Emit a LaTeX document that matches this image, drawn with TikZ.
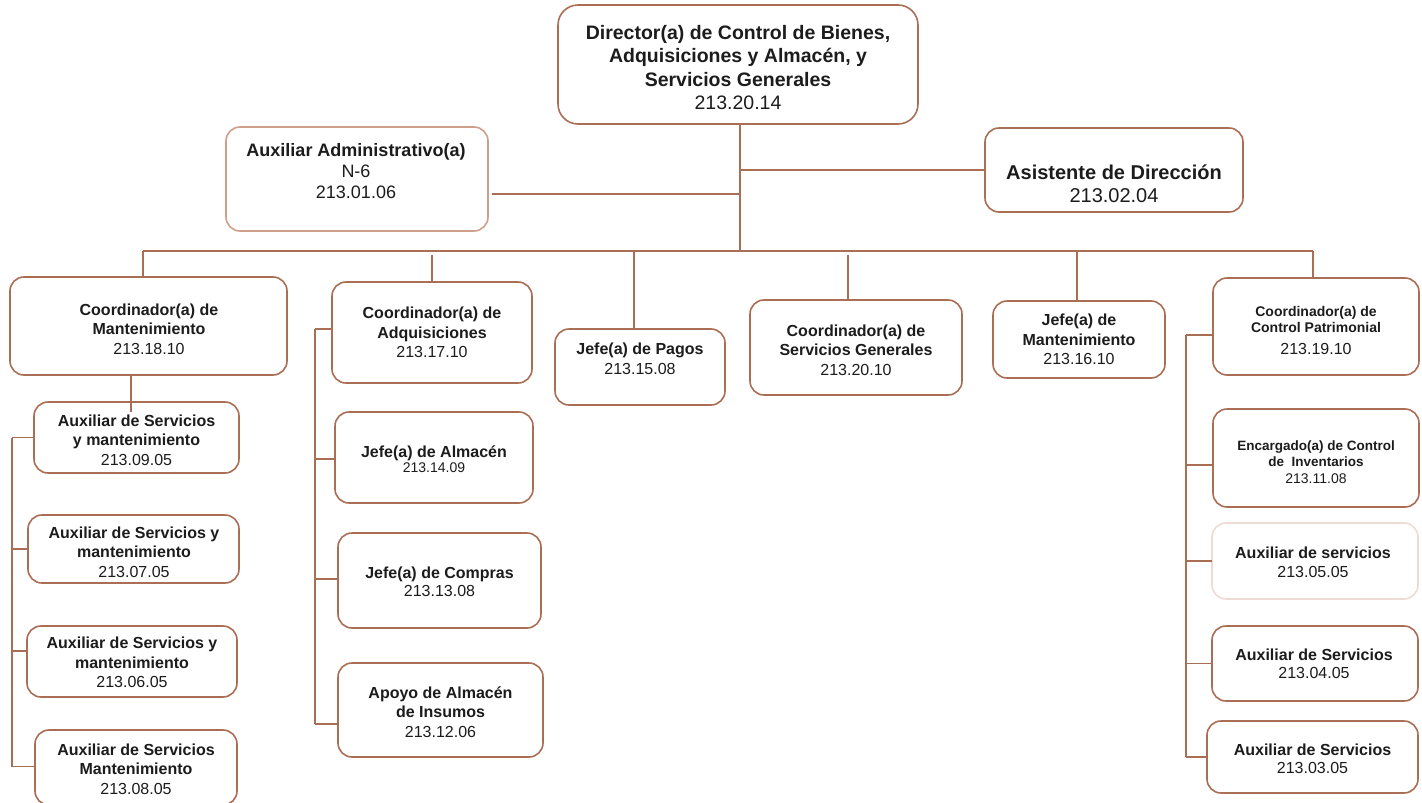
\documentclass[tikz,border=0pt]{standalone}
\usepackage{fontspec}
\setmainfont{Liberation Sans}
\usetikzlibrary{fit}
\definecolor{brn}{RGB}{170,110,85}
\definecolor{brnsoft}{RGB}{205,160,140}
\definecolor{brnpale}{RGB}{236,220,212}
\definecolor{ink}{RGB}{28,28,28}
\begin{document}
\begin{tikzpicture}[x=1pt,y=-1pt,
  box/.style={draw=brn, line width=1.6pt, rounded corners=14pt, fill=white,
              inner sep=0pt, outer sep=0pt},
  lbl/.style={align=center, inner sep=0pt, text=ink, font=\fontsize{16}{19.5}\selectfont},
  link/.style={draw=brn, line width=1.6pt}]
\useasboundingbox (0,0) rectangle (1422,803);

% ---------- boxes ----------
\node[box, rounded corners=20pt, fit={(558,5) (918,124)}] (dir) {};
\node[box, draw=brnsoft, fit={(226,127) (488,231)}] (aux) {};
\node[box, fit={(985,128) (1243,212)}] (asis) {};

\node[box, fit={(10,277) (287,375)}] (cm) {};
\node[box, fit={(332,282) (532,383)}] (adq) {};
\node[box, fit={(555,329) (725,405)}] (pag) {};
\node[box, fit={(750,300) (962,395)}] (sg) {};
\node[box, fit={(993,301) (1165,378)}] (jm) {};
\node[box, fit={(1213,278) (1419,375)}] (cp) {};

\node[box, fit={(34,402) (239,473)}] (am1) {};
\node[box, fit={(28,515) (239,583)}] (am2) {};
\node[box, fit={(27,626) (237,697)}] (am3) {};
\node[box, fit={(35,730) (237,805)}] (am4) {};

\node[box, fit={(335,412) (533,503)}] (alm) {};
\node[box, fit={(338,533) (541,628)}] (com) {};
\node[box, fit={(338,663) (543,757)}] (apo) {};

\node[box, fit={(1213,409) (1419,507)}] (enc) {};
\node[box, draw=brnpale, fit={(1212,523) (1418,599)}] (as5) {};
\node[box, fit={(1212,626) (1418,701)}] (as4) {};
\node[box, fit={(1207,721) (1418,793)}] (as3) {};

% ---------- upper connectors ----------
\coordinate (tr) at ([xshift=2pt]dir.south);
\coordinate (busL) at (143,251);
\coordinate (busR) at (1313,251);
\draw[link] (tr) -- (tr |- busL);
\draw[link] (busL) -- (busR);
\coordinate (aA) at (492,194);
\draw[link] (aA) -- (aA -| tr);
\draw[link] (asis.west) -- (asis.west -| tr);

\draw[link] (busL) -- (busL |- cm.north);
\coordinate (dAdq) at (432,255);
\draw[link] (dAdq) -- (dAdq |- adq.north);
\coordinate (dPag) at (634,251);
\draw[link] (dPag) -- (dPag |- pag.north);
\coordinate (dSG) at (848,255);
\draw[link] (dSG) -- (dSG |- sg.north);
\coordinate (dJM) at (1077,251);
\draw[link] (dJM) -- (dJM |- jm.north);
\draw[link] (busR) -- (busR |- cp.north);

% ---------- left column ----------
\coordinate (cmd) at (131,375);
\draw[link] (cmd) -- ([yshift=-10pt]am1.north -| cmd);
\coordinate (bl) at (12,0);
\coordinate (l1) at (am1.west);
\coordinate (l2) at (am2.west);
\coordinate (l3) at ([yshift=10.5pt]am3.west);
\coordinate (l4) at ([yshift=1pt]am4.west);
\draw[link] (l1 -| bl) -- (l4 -| bl);
\foreach \t in {l1,l2,l3,l4} \draw[link] (\t) -- (\t -| bl);

% ---------- middle column ----------
\coordinate (bm) at (315,0);
\coordinate (m1) at ([yshift=3.5pt]adq.west);
\coordinate (m2) at ([yshift=-1.5pt]alm.west);
\coordinate (m3) at ([yshift=1.5pt]com.west);
\coordinate (m4) at ([yshift=-14pt]apo.west);
\draw[link] (m1 -| bm) -- (m4 -| bm);
\foreach \t in {m1,m2,m3,m4} \draw[link] (\t) -- (\t -| bm);

% ---------- right column ----------
\coordinate (br) at (1186,0);
\coordinate (r1) at ([yshift=-8.5pt]cp.west);
\coordinate (r2) at ([yshift=-7pt]enc.west);
\coordinate (r3) at (as5.west);
\coordinate (r4) at (as4.west);
\coordinate (r5) at (as3.west);
\draw[link] (r1 -| br) -- (r5 -| br);
\foreach \t in {r1,r2,r3,r4,r5} \draw[link] (\t) -- (\t -| br);

% ---------- labels ----------
\node[lbl, font=\fontsize{19.5}{23.3}\selectfont] (dir-t) at (738,67.5)
  {\textbf{Director(a) de Control de Bienes,}\\\textbf{Adquisiciones y Almacén, y}\\\textbf{Servicios Generales}\\213.20.14};
\node[lbl, font=\fontsize{18}{21}\selectfont] (aux-t) at (356,171)
  {\textbf{Auxiliar Administrativo(a)}\\N-6\\213.01.06};
\node[lbl, font=\fontsize{20}{23.5}\selectfont] (asis-t) at (1114,184)
  {\textbf{Asistente de Dirección}\\213.02.04};

\node[lbl] (cm-t) at (149,329)
  {\textbf{Coordinador(a) de}\\\textbf{Mantenimiento}\\213.18.10};
\node[lbl] (adq-t) at (432,332.5)
  {\textbf{Coordinador(a) de}\\\textbf{Adquisiciones}\\213.17.10};
\node[lbl] (pag-t) at (640,359)
  {\textbf{Jefe(a) de Pagos}\\213.15.08};
\node[lbl] (sg-t) at (856,350)
  {\textbf{Coordinador(a) de}\\\textbf{Servicios Generales}\\213.20.10};
\node[lbl] (jm-t) at (1079,339.5)
  {\textbf{Jefe(a) de}\\\textbf{Mantenimiento}\\213.16.10};
\node[lbl, font=\fontsize{14}{15.5}\selectfont] (cp-t) at (1316,331)
  {\textbf{Coordinador(a) de}\\\textbf{Control Patrimonial}\\[7pt]{\fontsize{16}{16}\selectfont 213.19.10}};

\node[lbl] (am1-t) at (136.5,440)
  {\textbf{Auxiliar de Servicios}\\\textbf{y mantenimiento}\\213.09.05};
\node[lbl] (am2-t) at (134,552)
  {\textbf{Auxiliar de Servicios y}\\\textbf{mantenimiento}\\213.07.05};
\node[lbl] (am3-t) at (132,662.5)
  {\textbf{Auxiliar de Servicios y}\\\textbf{mantenimiento}\\213.06.05};
\node[lbl] (am4-t) at (136,769)
  {\textbf{Auxiliar de Servicios}\\\textbf{Mantenimiento}\\213.08.05};

\node[lbl] (alm-t) at (434,459.5)
  {\textbf{Jefe(a) de Almacén}\\[-4.5pt]{\fontsize{14}{14}\selectfont 213.14.09}};
\node[lbl, font=\fontsize{16}{18}\selectfont] (com-t) at (439.5,582)
  {\textbf{Jefe(a) de Compras}\\213.13.08};
\node[lbl] (apo-t) at (440.5,712)
  {\textbf{Apoyo de Almacén}\\\textbf{de Insumos}\\213.12.06};

\node[lbl, font=\fontsize{13.5}{16.5}\selectfont] (enc-t) at (1316,462)
  {\textbf{Encargado(a) de Control}\\\textbf{de~~Inventarios}\\{\fontsize{14}{14}\selectfont 213.11.08}};
\node[lbl] (as5-t) at (1313,562.5)
  {\textbf{Auxiliar de servicios}\\213.05.05};
\node[lbl, font=\fontsize{16}{18}\selectfont] (as4-t) at (1314,664)
  {\textbf{Auxiliar de Servicios}\\213.04.05};
\node[lbl, font=\fontsize{16}{18}\selectfont] (as3-t) at (1312.5,759)
  {\textbf{Auxiliar de Servicios}\\213.03.05};
\end{tikzpicture}
\end{document}
